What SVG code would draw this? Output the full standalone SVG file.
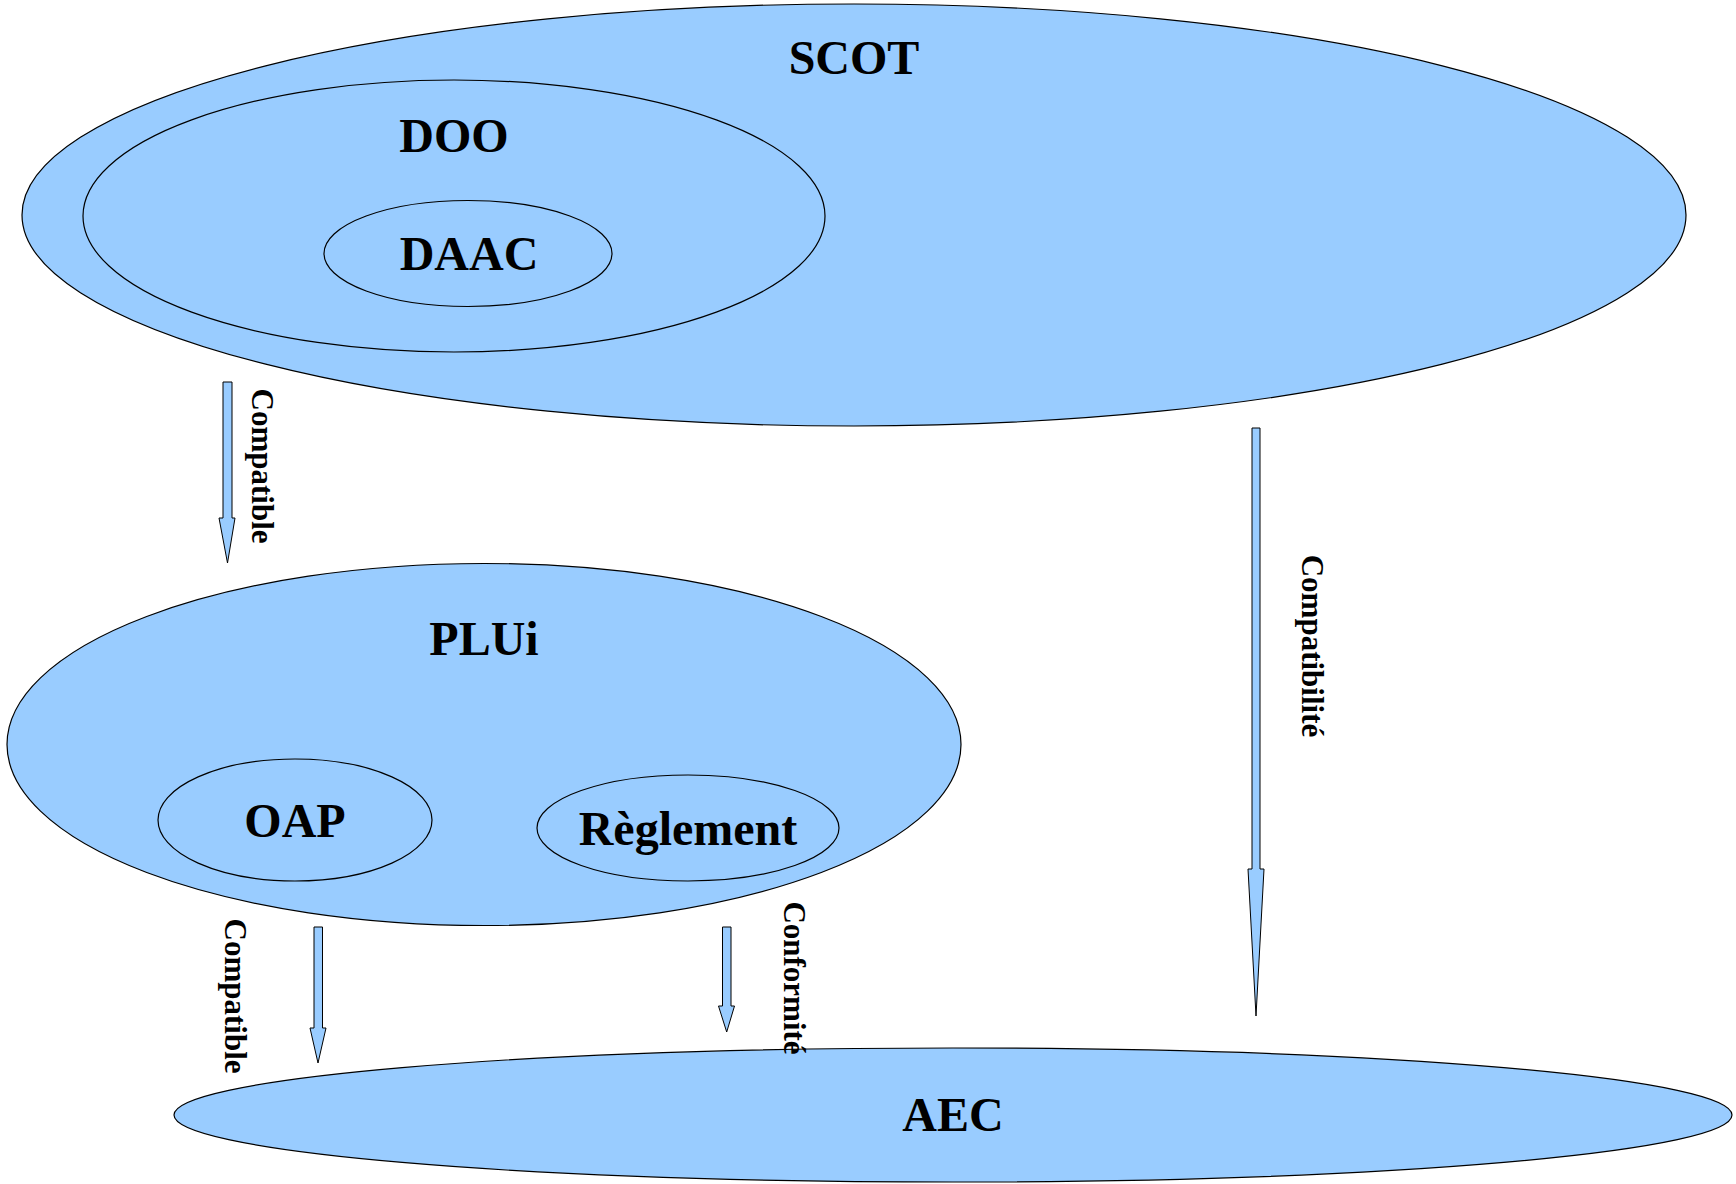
<svg xmlns="http://www.w3.org/2000/svg" width="1736" height="1184" viewBox="0 0 1736 1184">
<style>
.sh{fill:#99ccff;stroke:#000;stroke-width:1.2}
.ar{fill:#99ccff;stroke:#000;stroke-width:1}
.t{font-family:"Liberation Serif","Times New Roman",serif;font-weight:bold;font-size:48px;fill:#000;text-anchor:middle}
.l{font-family:"Liberation Serif","Times New Roman",serif;font-weight:bold;font-size:31px;fill:#000;text-anchor:middle}
</style>
<rect width="1736" height="1184" fill="#fff"/>
<g id="scot"><ellipse class="sh" cx="854" cy="215" rx="832" ry="211"/><text class="t" x="854" y="74">SCOT</text></g>
<g id="doo"><ellipse class="sh" cx="454" cy="216" rx="371" ry="136"/><text class="t" x="454" y="152">DOO</text></g>
<g id="daac"><ellipse class="sh" cx="468" cy="253.5" rx="144" ry="53"/><text class="t" x="469" y="270">DAAC</text></g>
<g id="plui"><ellipse class="sh" cx="484" cy="744.5" rx="477" ry="181"/><text class="t" x="484" y="655">PLUi</text></g>
<g id="oap"><ellipse class="sh" cx="295" cy="820" rx="137" ry="61"/><text class="t" x="295" y="837">OAP</text></g>
<g id="reglement"><ellipse class="sh" cx="688" cy="828" rx="151" ry="53"/><text class="t" x="688" y="845">Règlement</text></g>
<g id="aec"><ellipse class="sh" cx="953" cy="1115" rx="779" ry="67"/><text class="t" x="953" y="1131">AEC</text></g>
<g id="connectors">
<path class="ar" d="M223,382 H232 V518 H235 L227.5,563 L219,518 H223 Z"/>
<text class="l" transform="translate(252,466) rotate(90)">Compatible</text>
<path class="ar" d="M1252,428 H1260 V869 H1264 L1256,1016 L1248,869 H1252 Z"/>
<text class="l" transform="translate(1302,646) rotate(90)">Compatibilité</text>
<path class="ar" d="M314,927 H322.5 V1028 H326 L318,1063 L310,1028 H314 Z"/>
<text class="l" transform="translate(225,996) rotate(90)">Compatible</text>
<path class="ar" d="M722.5,927 H731 V1006 H734.5 L726.7,1032 L718.5,1006 H722.5 Z"/>
<text class="l" transform="translate(784,978) rotate(90)">Conformité</text>
</g>
</svg>
